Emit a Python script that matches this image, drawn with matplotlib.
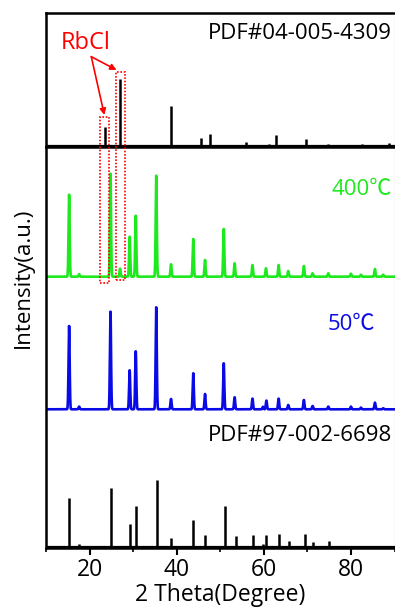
import numpy as np
import matplotlib
matplotlib.use("Agg")
import matplotlib.pyplot as plt
from matplotlib.patches import Rectangle
import matplotlib.transforms as mtransforms

plt.rcParams['font.family'] = ['Open Sans', 'Noto Sans CJK SC', 'DejaVu Sans']

# ---- data ----
rbcl_pos = [23.5, 27.1, 38.6, 45.6, 47.7, 55.8, 61.1, 62.9, 69.6, 74.7, 82.5, 88.8]
rbcl_int = [19, 66.4, 40, 7.4, 11.7, 4, 1.7, 11, 7, 1.5, 1.5, 2.5]

g400_pos = [15.3, 17.6, 24.8, 27.0, 29.2, 30.6, 35.3, 38.7, 43.8, 46.5, 50.8, 53.3,
            57.4, 60.5, 63.4, 65.6, 69.2, 71.2, 74.8, 80.0, 82.3, 85.5, 87.4]
g400_int = [82, 2.5, 103, 8, 40, 61, 101, 12.4, 37.7, 16.7, 47.7, 13.4,
            11.7, 8.4, 11.7, 5.7, 10.7, 3.4, 3.4, 3, 2, 7.7, 2]

b50_pos = [15.3, 17.6, 24.8, 29.2, 30.6, 35.3, 38.7, 43.8, 46.5, 50.8, 53.3, 57.4,
           59.8, 60.6, 63.4, 65.6, 69.2, 71.2, 74.8, 80.0, 82.3, 85.5, 87.4]
b50_int = [83.3, 2.7, 97.6, 39, 58, 102, 10.3, 36, 15.3, 46, 12, 10.7,
           2.5, 8.7, 10.7, 4.3, 9.3, 3.3, 2.7, 2.7, 1.7, 6.7, 1]

ref_pos = [15.3, 17.6, 24.9, 29.3, 30.7, 35.5, 38.8, 43.8, 46.5, 51.0, 53.6, 57.6,
           59.9, 60.6, 63.6, 65.8, 69.4, 71.4, 75.0]
ref_int = [48.3, 3, 58.3, 22.7, 41, 67, 8.3, 26.7, 11.7, 41, 10.7, 12,
           3, 11.3, 12.7, 6, 12.7, 4.3, 6]

xticks = [20, 40, 60, 80]

# ---- figure ----
fig = plt.figure(figsize=(3.95, 6.12), dpi=100)
left = 46 / 395
width = (394.5 - 46) / 395
ax_top = fig.add_axes([left, 1 - 147 / 612, width, 134 / 612])
ax = fig.add_axes([left, 1 - 548 / 612, width, 401 / 612])

for a in (ax_top, ax):
    for s in a.spines.values():
        s.set_linewidth(1.8)
    a.spines['right'].set_linewidth(0.8)
    a.spines['right'].set_color('#888888')
    a.set_xlim(10, 90)
    a.set_yticks([])

# top panel: RbCl reference sticks
ax_top.set_ylim(-1.3, 132.7)
ax_top.axhline(0, color='black', lw=1.6)
ax_top.vlines(rbcl_pos, 0, rbcl_int, color='black', lw=1.8)
ax_top.set_xticks([])
ax_top.text(0.992, 0.804, 'PDF#04-005-4309', transform=ax_top.transAxes,
            ha='right', va='baseline', fontsize=16, color='black')

# RbCl label and arrows
ax_top.text(19.1, 102.7, 'RbCl', ha='center', va='center', fontsize=17, color='red')
for tx, ty in [(23.4, 30.7), (26.2, 75.7)]:
    ax_top.annotate('', xy=(tx, ty), xytext=(20.4, 89),
                    arrowprops=dict(arrowstyle='-|>', color='red', lw=1.2,
                                    mutation_scale=9, shrinkA=0, shrinkB=0))

# bottom panel
ax.set_ylim(0, 401)
xg = np.arange(10, 90.001, 0.02)
sig = 0.13

def profile(pos, inten, base):
    y = np.full_like(xg, base)
    for p, h in zip(pos, inten):
        y += h * np.exp(-(xg - p) ** 2 / (2 * sig ** 2))
    return y

ax.plot(xg, profile(g400_pos, g400_int, 271.3), color='#1ee81e', lw=1.9)
ax.plot(xg, profile(b50_pos, b50_int, 138.7), color='#0a0ae6', lw=1.9)
ax.axhline(1.3, color='black', lw=1.6)
ax.vlines(ref_pos, 1.3, 1.3 + np.array(ref_int), color='black', lw=1.8)

ax.text(0.992, 0.880, '400℃', transform=ax.transAxes, ha='right', va='baseline',
        fontsize=16, color='#1ee81e')
ax.text(0.944, 0.544, '50℃', transform=ax.transAxes, ha='right', va='baseline',
        fontsize=16, color='#0a0ae6')
ax.text(0.992, 0.2676, 'PDF#97-002-6698', transform=ax.transAxes, ha='right',
        va='baseline', fontsize=16, color='black')

ax.set_xticks(xticks)
ax.set_xticks([10, 30, 50, 70, 90], minor=True)
ax.tick_params(axis='x', which='major', direction='out', length=5, width=1.5,
               labelsize=16.5, pad=2)
ax.tick_params(axis='x', which='minor', direction='out', length=3, width=1.2)
ax.set_xlabel('2 Theta(Degree)', fontsize=16.5, labelpad=1)

fig.text(23 / 395, 1 - 278 / 612, 'Intensity(a.u.)', rotation=90, ha='center',
         va='center', fontsize=16)

# red dotted boxes spanning both panels
trans = mtransforms.blended_transform_factory(ax.transData, fig.transFigure)
for x0, x1, y0, y1 in [(22.4, 24.4, 1 - 283.3 / 612, 1 - 117.3 / 612),
                       (26.1, 28.1, 1 - 280 / 612, 1 - 71.7 / 612)]:
    r = Rectangle((x0, y0), x1 - x0, y1 - y0, transform=trans, fill=False,
                  edgecolor='red', lw=1.2, linestyle=(0, (1, 1)), clip_on=False,
                  zorder=10)
    fig.add_artist(r)

fig.savefig('out.png', dpi=100)
